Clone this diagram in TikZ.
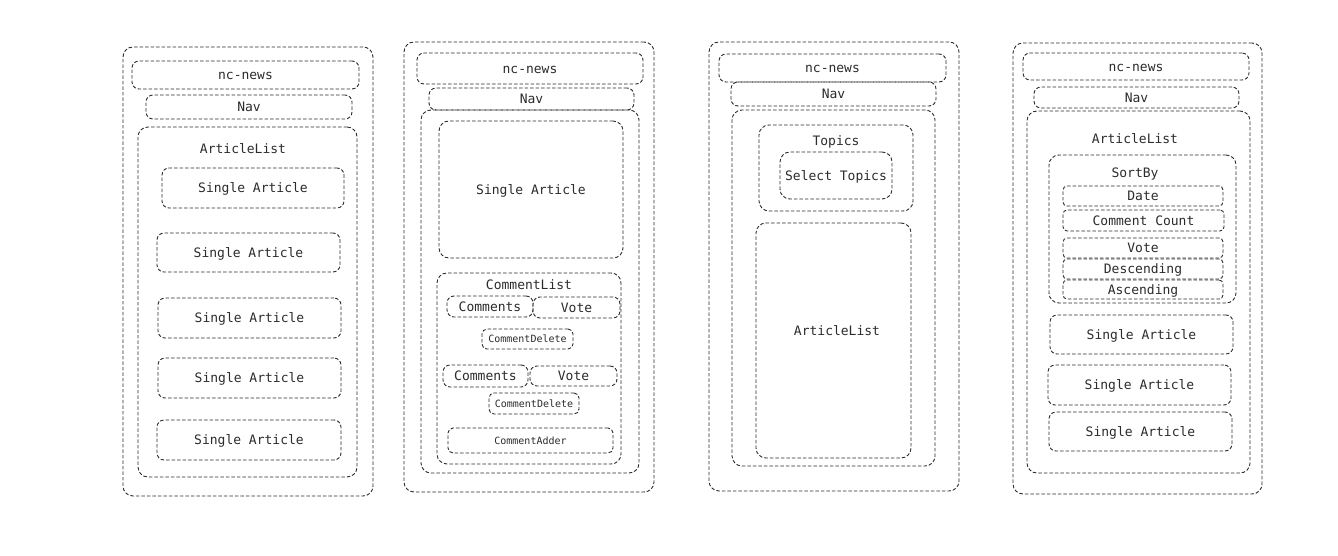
\documentclass[tikz,border=0pt]{standalone}
\usepackage{fontspec}
\setmainfont{DejaVu Sans Mono}
\definecolor{ink}{HTML}{2B2B2B}
\definecolor{edge}{HTML}{2B2B2B}
\newcommand\mybox[7][]{\node[box,#1,minimum width={#4-#2},minimum height={#5-#3}] (#6) at ({(#2+#4)/2},{(#3+#5)/2}) {#7};}
\tikzset{
  box/.style={draw=edge, line width=0.9pt, dash pattern=on 3.5pt off 2pt, rounded corners=7pt, inner sep=0pt, outer sep=0pt, text=ink, font=\fontsize{13}{15}\selectfont, text height=11.5pt, text depth=2pt},
  big/.style={rounded corners=10pt},
  small/.style={font=\fontsize{10}{12}\selectfont, rounded corners=5pt, text height=9pt, text depth=1.5pt},
  lbl/.style={text=ink, font=\fontsize{13}{15}\selectfont, inner sep=0pt}
}
\begin{document}
\begin{tikzpicture}[x=1pt,y=-1pt]
\useasboundingbox (0,0) rectangle (1338,556);
% ---------- column 1
\mybox[big]{123}{47}{373}{496}{o1}{}
\mybox{132}{61}{359}{89}{nc1}{nc-news}
\mybox{146}{95}{352}{119}{nav1}{Nav}
\mybox[big]{138}{127}{357}{477}{al1}{}
\node[lbl] (al1l) at (243,149) {ArticleList};
\mybox{162}{168}{344}{208}{sa11}{Single Article}
\mybox{157}{233}{340}{272}{sa12}{Single Article}
\mybox{158}{298}{341}{338}{sa13}{Single Article}
\mybox{158}{358}{341}{398}{sa14}{Single Article}
\mybox{157}{420}{341}{460}{sa15}{Single Article}
% ---------- column 2
\mybox[big]{404}{42}{654}{492}{o2}{}
\mybox{417}{53}{643}{84}{nc2}{nc-news}
\mybox{429}{88}{634}{110}{nav2}{Nav}
\mybox[big]{421}{110}{639}{473}{in2}{}
\mybox[big]{439}{121}{623}{258}{sa2}{Single Article}
\mybox[big]{437}{273}{621}{464}{cl2}{}
\node[lbl] (cl2l) at (529,285) {CommentList};
\mybox{447}{296}{533}{317}{cm1}{Comments}
\mybox{533}{297}{620}{318}{vt1}{Vote}
\mybox[small]{482}{329}{573}{349}{cd1}{CommentDelete}
\mybox{443}{365}{528}{387}{cm2}{Comments}
\mybox{530}{366}{617}{386}{vt2}{Vote}
\mybox[small]{489}{393}{579}{414}{cd2}{CommentDelete}
\mybox[small]{448}{428}{613}{453}{ca2}{CommentAdder}
% ---------- column 3
\mybox[big]{709}{42}{959}{491}{o3}{}
\mybox{719}{54}{946}{82}{nc3}{nc-news}
\mybox{731}{82}{936}{106}{nav3}{Nav}
\mybox[big]{732}{110}{935}{466}{in3}{}
\mybox[big]{759}{125}{913}{211}{tp3}{}
\node[lbl] (tp3l) at (836,142) {Topics};
\mybox[big]{780}{152}{892}{199}{st3}{Select Topics}
\mybox[big]{756}{223}{911}{458}{al3}{}
\node[lbl] (al3l) at (837,331) {ArticleList};
% ---------- column 4
\mybox[big]{1013}{43}{1262}{494}{o4}{}
\mybox{1023}{53}{1249}{80}{nc4}{nc-news}
\mybox{1034}{87}{1239}{108}{nav4}{Nav}
\mybox[big]{1027}{111}{1250}{473}{al4}{}
\node[lbl] (al4l) at (1135,139) {ArticleList};
\mybox[big]{1049}{155}{1236}{303}{sb4}{}
\node[lbl] (sb4l) at (1135,174) {SortBy};
\mybox[rounded corners=4pt]{1063}{186}{1223}{206}{d4}{Date}
\mybox[rounded corners=4pt]{1063}{210}{1224}{231}{cc4}{Comment Count}
\mybox[rounded corners=4pt]{1063}{238}{1223}{258}{v4}{Vote}
\mybox[rounded corners=4pt]{1063}{259}{1223}{279}{de4}{Descending}
\mybox[rounded corners=4pt]{1063}{280}{1223}{299}{as4}{Ascending}
\mybox{1050}{315}{1233}{354}{sa41}{Single Article}
\mybox{1048}{365}{1231}{405}{sa42}{Single Article}
\mybox{1049}{412}{1232}{451}{sa43}{Single Article}
\end{tikzpicture}
\end{document}
